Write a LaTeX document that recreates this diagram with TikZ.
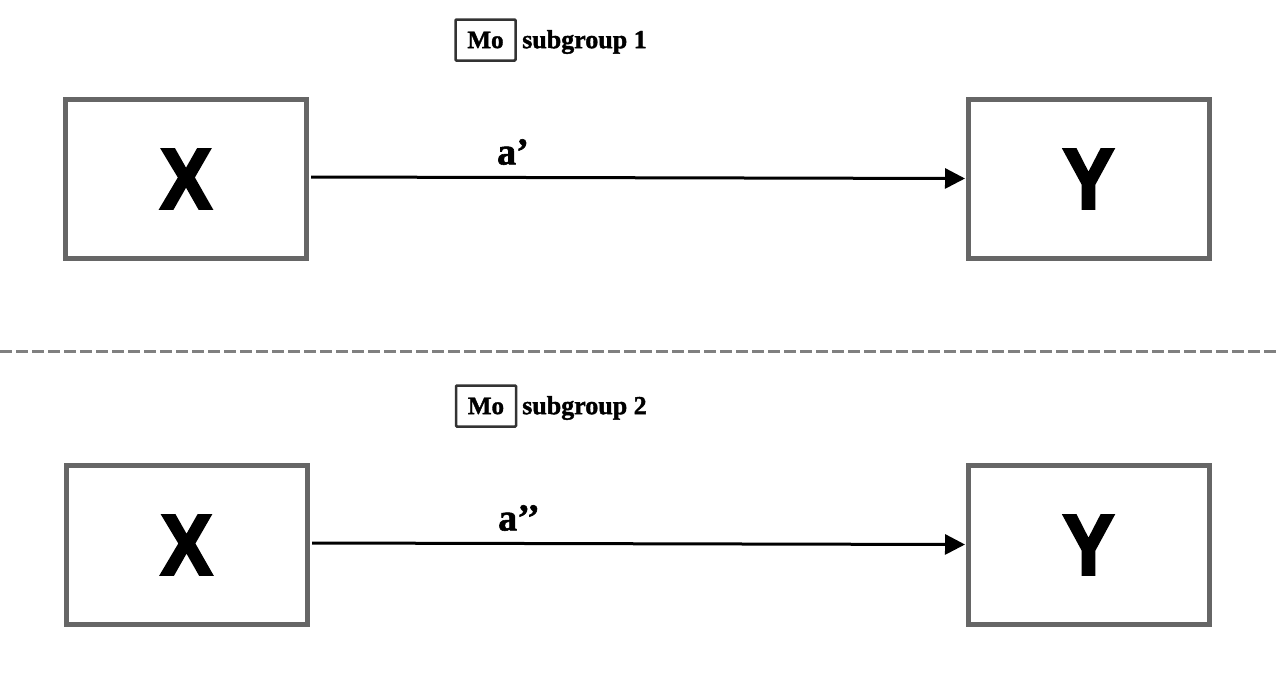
\documentclass[tikz,border=0pt]{standalone}
\usepackage{fontspec}
\setmainfont{Liberation Serif}[BoldFeatures={FakeBold=1.5}]
\newfontfamily\bigsans{Liberation Sans}[FakeBold=3,FakeStretch=0.9]
\usetikzlibrary{arrows.meta}
\tikzset{
  varbox/.style={draw=black!60, line width=5pt, minimum width=241pt, minimum height=159pt, inner sep=0pt,
    font=\bigsans\bfseries\fontsize{86}{86}\selectfont},
  mobox/.style={draw=black!80, line width=2.5pt, rounded corners=1pt, minimum width=60pt, minimum height=41pt, inner sep=0pt,
    font=\bfseries\fontsize{25}{25}\selectfont},
  grouplbl/.style={anchor=west, inner sep=0pt, font=\bfseries\fontsize{26}{26}\selectfont},
  pathlbl/.style={inner sep=0pt, font=\bfseries\fontsize{38}{38}\selectfont},
  conn/.style={line width=3pt, -{Triangle[length=20pt,width=20pt]}},
  sep/.style={draw=black!50, line width=3pt, dash pattern=on 12pt off 4pt}
}
\begin{document}
\begin{tikzpicture}[x=1pt,y=-1pt]
\useasboundingbox (0,0) rectangle (1276,681);
% top row
\node[varbox] (x1) at (186,179) {\raisebox{-8pt}{X}};
\node[varbox] (y1) at (1088.5,179) {\raisebox{-8pt}{Y}};
\node[mobox] (mo1) at (485.5,40) {\raisebox{-2pt}{Mo}};
\node[grouplbl] (g1) at (522,42) {subgroup 1};
\coordinate (s1) at (311,177);
\coordinate (e1) at (965,178.5);
\draw[conn] (s1) -- (e1);
\node[pathlbl] (a1) at (513,152) {a’};
% separator
\coordinate (d1) at (0,351);
\coordinate (d2) at (1276,351);
\draw[sep] (d1) -- (d2);
% bottom row
\node[varbox] (x2) at (186.5,545) {\raisebox{-8pt}{X}};
\node[varbox] (y2) at (1088.5,545) {\raisebox{-8pt}{Y}};
\node[mobox] (mo2) at (486,406) {\raisebox{-2pt}{Mo}};
\node[grouplbl] (g2) at (522,408) {subgroup 2};
\coordinate (s2) at (312,543);
\coordinate (e2) at (965,544.5);
\draw[conn] (s2) -- (e2);
\node[pathlbl] (a2) at (519,518) {a’’};
\end{tikzpicture}
\end{document}
